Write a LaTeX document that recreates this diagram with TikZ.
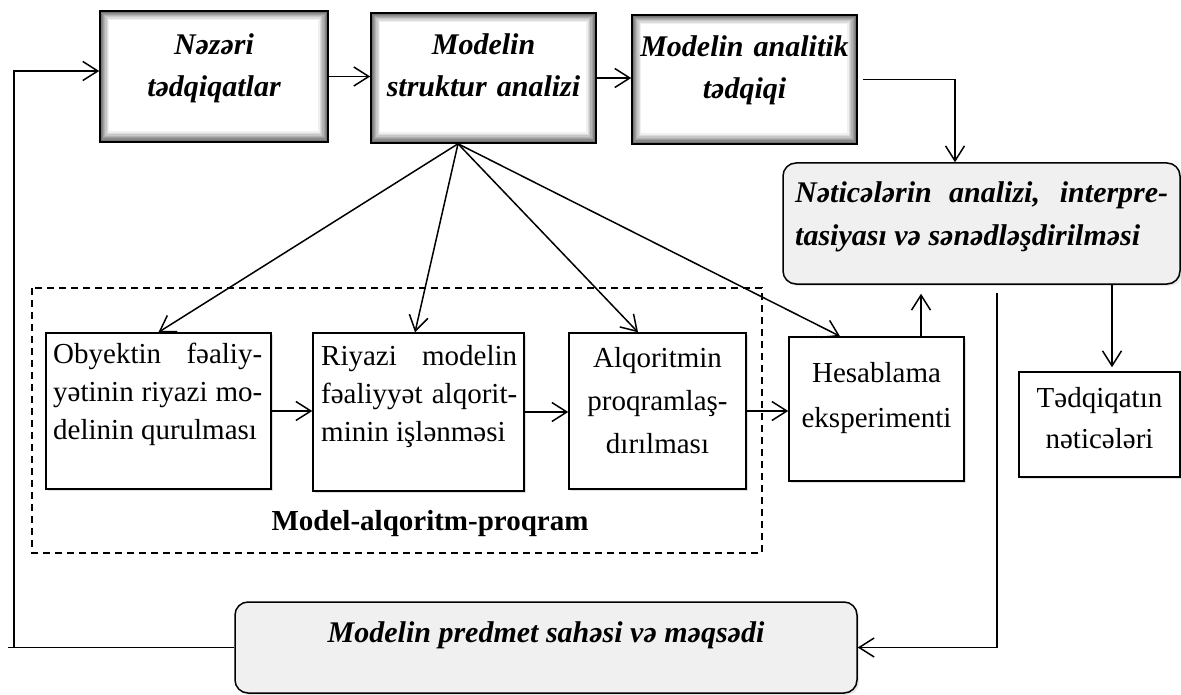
\documentclass[tikz,border=0pt]{standalone}
\usepackage{fontspec}
\setmainfont{Liberation Serif}
\usetikzlibrary{arrows.meta,positioning,shadows}

\tikzset{
    topbox/.style={draw, line width=1.6pt, fill=white, inner sep=0pt,
        path picture={
            \foreach \i [evaluate=\i as \c using int(62-8*\i)] in {1,...,7}
                \draw[black!\c, line width=1.4pt]
                    ([xshift=1.2pt*\i, yshift=-1.2pt*\i]path picture bounding box.north west) rectangle
                    ([xshift=-1.3pt*\i, yshift=1.4pt*\i]path picture bounding box.south east);
        }},
    lowbox/.style={draw, line width=1.5pt, fill=white, inner sep=0pt,
        drop shadow={shadow xshift=2pt, shadow yshift=-2pt, opacity=0.25}},
    roundbox/.style={draw, line width=1.5pt, fill=black!6, rounded corners=13pt, inner sep=0pt,
        drop shadow={shadow xshift=2pt, shadow yshift=-2pt, opacity=0.2}},
    toptext/.style={font=\bfseries\itshape\fontsize{30}{42}\selectfont, text width=220pt,
        align=center, inner sep=0pt, anchor=base},
    lowtext/.style={font=\fontsize{29}{38}\selectfont, inner sep=0pt, anchor=base},
    conn/.style={line width=1.5pt},
    arr/.style={line width=1.5pt, -{Straight Barb[length=15pt,width=19pt]}},
}

\begin{document}
\begin{tikzpicture}[x=1pt, y=-1pt]
    \useasboundingbox (0,0) rectangle (1181,695);

    % Top row
    \node[topbox, minimum width=228, minimum height=131] (nezeri) at (214,76.5) {};
    \node[topbox, minimum width=225, minimum height=130] (struktur) at (483.5,78) {};
    \node[topbox, minimum width=225, minimum height=129] (analitik) at (744.5,79.5) {};
    \node[toptext] (nezerit) at (214,55) {Nəzəri\\tədqiqatlar};
    \node[toptext] (strukturt) at (483.5,55) {Modelin\\struktur analizi};
    \node[toptext] (analitikt) at (744.5,57) {Modelin analitik\\tədqiqi};

    % Results
    \node[roundbox, minimum width=397, minimum height=121] (netice) at (981.5,223.5) {};
    \node[font=\bfseries\itshape\fontsize{30}{43}\selectfont, text width=373pt, align=justify,
        inner sep=0pt, anchor=base west] (net) at (795,203)
        {Nəticələrin analizi, interpre-\linebreak tasiyası və sənədləşdirilməsi};

    % Model-alqoritm-proqram group
    \draw[dashed, dash pattern=on 7pt off 5pt, line width=1.2pt] (32,288) rectangle (762,553);
    \node[font=\bfseries\fontsize{29}{35}\selectfont, inner sep=0pt, anchor=base] (mapt) at (430,530) {Model-alqoritm-proqram};

    % Lower row
    \node[lowbox, minimum width=225, minimum height=156] (obj) at (158.5,411) {};
    \node[lowbox, minimum width=211, minimum height=158] (riyazi) at (418.5,412) {};
    \node[lowbox, minimum width=177, minimum height=156] (alq) at (657.5,411) {};
    \node[lowbox, minimum width=175, minimum height=144] (hes) at (876.5,409) {};
    \node[lowbox, minimum width=161, minimum height=105] (ted) at (1099.5,424.5) {};
    \node[lowtext, anchor=base west, text width=209pt, align=justify] (objt) at (53,363)
        {Obyektin fəaliy-\linebreak yətinin riyazi mo-\linebreak delinin qurulması};
    \node[lowtext, anchor=base west, text width=196pt, align=justify] (riyazit) at (321,365)
        {Riyazi modelin\linebreak fəaliyyət alqorit-\linebreak minin işlənməsi};
    \node[lowtext, text width=170pt, align=center, font=\fontsize{29}{43}\selectfont] (alqt) at (657.5,367)
        {Alqoritmin\\proqramlaş-\\dırılması};
    \node[lowtext, text width=170pt, align=center, font=\fontsize{29}{45}\selectfont] (hest) at (876.5,382)
        {Hesablama\\eksperimenti};
    \node[lowtext, text width=155pt, align=center, font=\fontsize{29}{41}\selectfont] (tedt) at (1099.5,407)
        {Tədqiqatın\\nəticələri};

    % Bottom
    \node[roundbox, minimum width=622, minimum height=91] (predmet) at (546,647.5) {};
    \node[font=\bfseries\itshape\fontsize{30}{36}\selectfont, inner sep=0pt, anchor=base] (predmett) at (546,642)
        {Modelin predmet sahəsi və məqsədi};

    % Arrows
    \foreach \a/\b in {nezeri/struktur, struktur/analitik, obj/riyazi, riyazi/alq, alq/hes}
        \draw[arr] (\a.east) -- (\a.east -| \b.west);
    \coordinate (fan) at ([xshift=-25.5]struktur.south);
    \foreach \t/\s in {obj/0, riyazi/-3.5, alq/-19.5, hes/-36.5}
        \draw[arr] (fan) -- ([xshift=\s]\t.north);
    \draw[arr] ([xshift=5]analitik.east) -| ([xshift=-26.5]netice.north);
    \draw[arr, shorten >=9pt] ([xshift=44.5]hes.north) -- ([xshift=44.5]hes.north |- netice.south);
    \draw[arr, shorten >=4pt] ([xshift=130.5]netice.south) -- ([xshift=130.5]netice.south |- ted.north);
    \draw[arr] ([xshift=15.5, yshift=-8]netice.south) |- (predmet.east);

    % Feedback loop
    \coordinate (lbot) at (14,647.5);
    \coordinate (ltop) at (14,71);
    \draw[conn] (predmet.west) -- ([xshift=-6]lbot);
    \draw[arr] (lbot) -- (ltop) -- (ltop -| nezeri.west);
\end{tikzpicture}
\end{document}
